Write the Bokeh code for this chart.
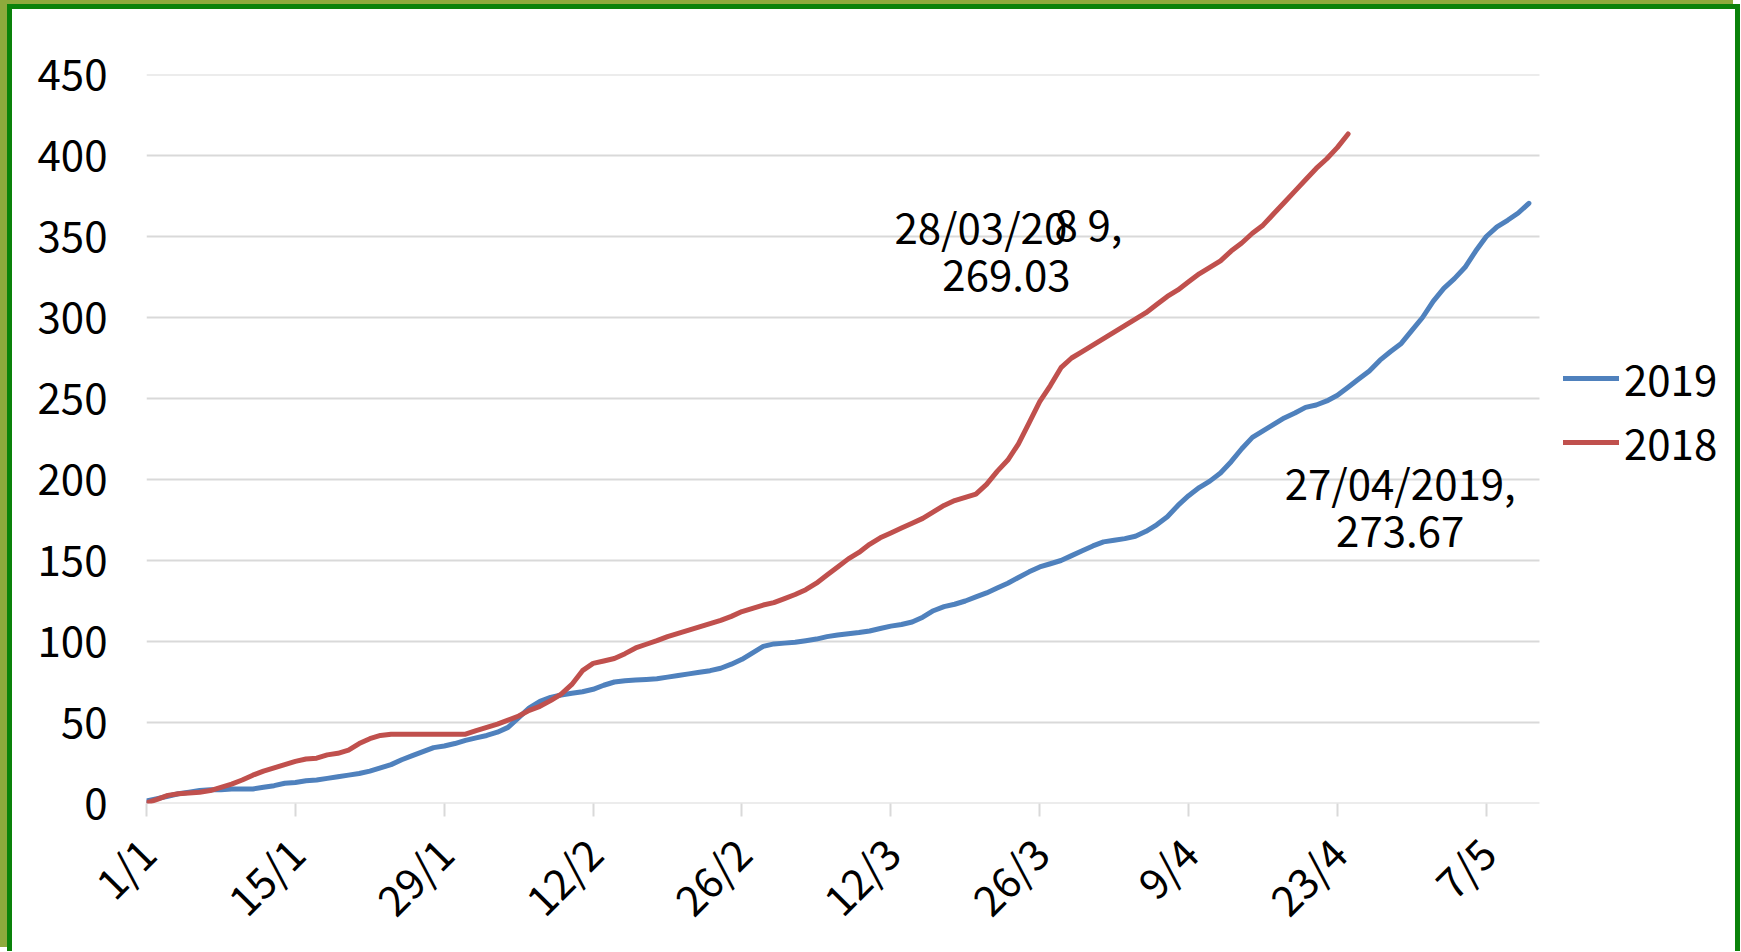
import math
import datetime as dt
from bokeh.plotting import figure
from bokeh.models import Range1d, FixedTicker, Legend, LegendItem, Label
from bokeh.embed import file_html
from bokeh.resources import INLINE

# ---------------- data ----------------
start_date = dt.date(2019, 1, 1)

series_2019 = [
    1.5, 3, 4.5, 6, 7, 8, 8.5, 8.5, 9, 9,
    9, 10, 11, 12.5, 13, 14, 14.5, 15.5, 16.5, 17.5,
    18.5, 20, 22, 24, 27, 29.5, 32, 34.5, 35.5, 37,
    39, 40.5, 42, 44, 47, 53, 59, 63, 65.5, 67,
    68, 69, 70.5, 73, 75, 75.8, 76.2, 76.6, 77, 78,
    79, 80, 81, 82, 83.5, 86, 89, 93, 97, 98.5,
    99, 99.5, 100.5, 101.5, 103, 104, 104.8, 105.5, 106.5, 108,
    109.5, 110.5, 112, 115, 119, 121.5, 123, 125, 127.5, 130,
    133, 136, 139.5, 143, 146, 148, 150, 153, 156, 159,
    161.5, 162.5, 163.5, 165, 168, 172, 177, 184, 190, 195,
    199, 204, 211, 219, 226, 230, 234, 238, 241, 244.5,
    246, 248.5, 252, 257, 262, 267, 273.67, 279, 284, 292,
    300, 310, 318, 324, 331, 341, 350, 356, 360, 364.5,
    370.5,
]

series_2018 = [
    0.3, 2.5, 5, 6, 6.5, 7, 8, 10, 12, 14.5,
    17.5, 20, 22, 24, 26, 27.5, 28, 30, 31, 33,
    37, 40, 42, 42.8, 42.8, 42.8, 42.8, 42.8, 42.8, 42.8,
    42.8, 45, 47, 49, 51.5, 54, 57.5, 60, 63.5, 67.5,
    73.5, 82, 86.5, 88, 89.5, 92.5, 96, 98.3, 100.5, 103,
    105, 107, 109, 111, 113, 115.5, 118.5, 120.5, 122.5, 124,
    126.5, 129, 132, 136, 141, 146, 151, 155, 160, 164,
    167, 170, 173, 176, 180, 184, 187, 189, 191, 197,
    205, 212, 222, 235, 248, 258, 269.03, 275, 279, 283,
    287, 291, 295, 299, 303, 308, 313, 317, 322, 327,
    331, 335, 341, 346, 352, 357, 364, 371, 378, 385,
    392, 398, 405, 413.3,
]

series_names = ["2019", "2018"]
series_colors = ["#4F81BD", "#C0504D"]

tick_labels = ["1/1", "15/1", "29/1", "12/2", "26/2", "12/3", "26/3", "9/4", "23/4", "7/5"]
y_ticks = [0, 50, 100, 150, 200, 250, 300, 350, 400, 450]

# data labels shown on the chart (first one is drawn garbled, as in the original)
label_2018_pieces = ["28/03/20", "8", "9,"]
label_2018_value = "269.03"
label_2019_lines = ["27/04/2019,", "273.67"]


def day_of(label):
    d, m = label.split("/")
    return (dt.date(2019, int(m), int(d)) - start_date).days


tick_days = [day_of(t) for t in tick_labels]
x19 = list(range(len(series_2019)))
x18 = list(range(len(series_2018)))

# ---------------- layout ----------------
FONT = "Noto Sans CJK KR"
FS = "42px"
W, H = 1733, 947
BL, BR, BT, BB = 134, 15, 65, 153
PLOT_W = 1393                     # width of the gridded plot area
AXIS_END = 131                    # x-axis extent (days) over PLOT_W
frame_w = W - BL - BR
x_view_end = AXIS_END * frame_w / PLOT_W   # frame extends right to hold the legend

p = figure(
    width=W, height=H,
    x_range=Range1d(0, x_view_end), y_range=Range1d(0, 450),
    output_backend="svg", toolbar_location=None,
    min_border_left=BL, min_border_top=BT, min_border_right=BR, min_border_bottom=BB,
    background_fill_color="white", border_fill_color="white",
)
p.outline_line_color = None
p.styles = {
    "border": "5px solid #0A820A",
    "border-bottom": "none",
    "margin-left": "7px",
    "margin-top": "4px",
    "box-shadow": "-7px -4px 0 0 #8DAA3C",
}

# y axis
p.yaxis.ticker = FixedTicker(ticks=y_ticks)
p.yaxis.axis_line_color = None
p.yaxis.major_tick_line_color = None
p.yaxis.minor_tick_line_color = None
p.yaxis.major_label_standoff = 33
p.yaxis.major_label_text_font = FONT
p.yaxis.major_label_text_font_size = FS
p.yaxis.major_label_text_color = "black"

# x axis
p.xaxis.ticker = FixedTicker(ticks=tick_days)
p.xaxis.major_label_overrides = {d: t for d, t in zip(tick_days, tick_labels)}
p.xaxis.axis_line_color = None
p.xaxis.major_tick_line_color = "#D9D9D9"
p.xaxis.major_tick_line_width = 2
p.xaxis.major_tick_in = 0
p.xaxis.major_tick_out = 13
p.xaxis.minor_tick_line_color = None
p.xaxis.major_label_orientation = math.pi / 4
p.xaxis.major_label_standoff = 28
p.xaxis.major_label_text_font = FONT
p.xaxis.major_label_text_font_size = FS
p.xaxis.major_label_text_color = "black"

p.xgrid.grid_line_color = None
p.ygrid.grid_line_color = None

# horizontal gridlines (and axis line at 0) over the plot area only
p.segment(x0=[0] * len(y_ticks), x1=[AXIS_END] * len(y_ticks), y0=y_ticks, y1=y_ticks,
          line_color="#D9D9D9", line_width=2)

r19 = p.line(x19, series_2019, line_color=series_colors[0], line_width=5,
             line_cap="round", line_join="round")
r18 = p.line(x18, series_2018, line_color=series_colors[1], line_width=5,
             line_cap="round", line_join="round")

legend = Legend(items=[LegendItem(label=series_names[0], renderers=[r19]),
                       LegendItem(label=series_names[1], renderers=[r18])],
                location=(1417, 331))
legend.border_line_color = None
legend.background_fill_alpha = 0
legend.padding = 0
legend.margin = 0
legend.spacing = 3
legend.glyph_width = 56
legend.glyph_height = 30
legend.label_height = 30
legend.label_standoff = 5
legend.label_text_font = FONT
legend.label_text_font_size = FS
legend.label_text_color = "black"
p.add_layout(legend, "center")

# data labels (anchor in data units)
ann1_x, ann1_y1, ann1_y2 = 80.87, 356.7, 325.9
ann2_x, ann2_y1, ann2_y2 = 117.9, 198.6, 167.9

common = dict(text_font=FONT, text_font_size=FS, text_color="black", text_baseline="middle")
p.add_layout(Label(x=ann1_x, y=ann1_y1, text=label_2018_pieces[0], x_offset=-112, text_align="left", **common))
p.add_layout(Label(x=ann1_x, y=ann1_y1, text=label_2018_pieces[1], x_offset=48, text_align="left", **common))
p.add_layout(Label(x=ann1_x, y=ann1_y1, text=label_2018_pieces[2], x_offset=81, text_align="left", **common))
p.add_layout(Label(x=ann1_x, y=ann1_y2, text=label_2018_value, text_align="center", **common))
p.add_layout(Label(x=ann2_x, y=ann2_y1, text=label_2019_lines[0], text_align="center", **common))
p.add_layout(Label(x=ann2_x, y=ann2_y2, text=label_2019_lines[1], text_align="center", **common))

open("out.html", "w").write(file_html(p, INLINE))
